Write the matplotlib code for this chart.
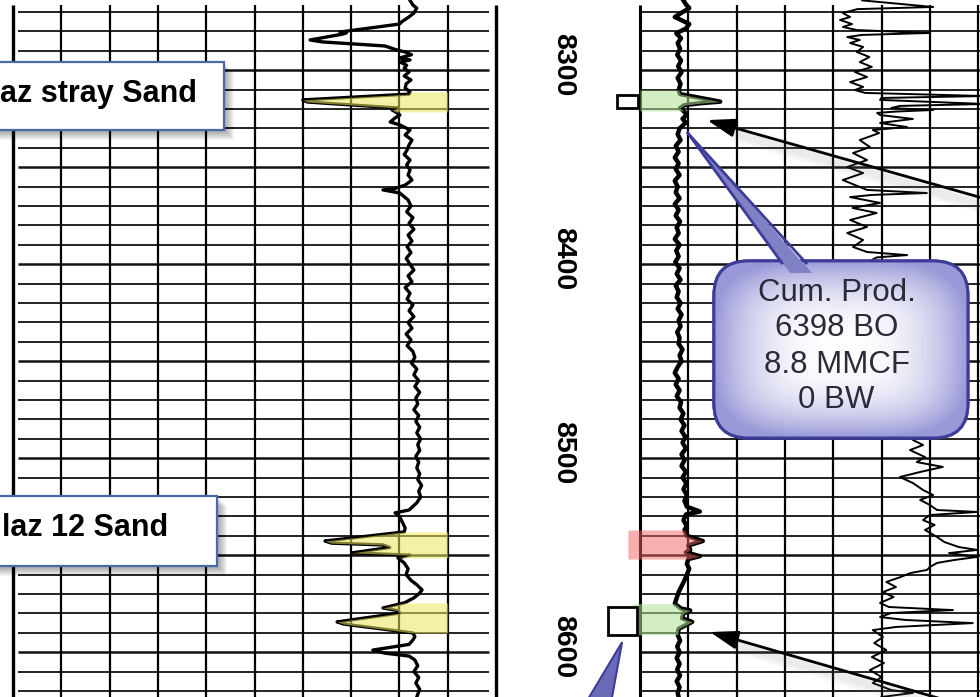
import numpy as np
import matplotlib.pyplot as plt
from matplotlib.patches import FancyBboxPatch, Rectangle, Polygon
from matplotlib.transforms import offset_copy

plt.rcParams['font.family'] = ['Liberation Sans', 'DejaVu Sans']

# depth window of the log section (ft) and depth scale
top_depth = 8263.8
base_depth = 8623.1
grid_depths = np.arange(8270, 8621, 10)
depth_labels = [8300, 8400, 8500, 8600]

# left track curve: (depth, chart divisions from left edge of track)
sp_log = np.array([
    (8264.0, 8.22), (8266.4, 8.28), (8268.0, 8.36), (8270.5, 8.30), (8272.5, 8.20),
    (8275.0, 8.05), (8276.2, 8.00), (8280.3, 6.77), (8280.8, 6.90), (8281.5, 6.80),
    (8284.4, 6.15), (8285.4, 6.40), (8287.5, 7.70), (8289.6, 7.95), (8290.6, 8.12),
    (8292.0, 8.25), (8293.7, 8.00), (8294.7, 8.22), (8295.8, 8.02), (8297.5, 8.15),
    (8298.9, 8.10), (8300.9, 8.20), (8303.0, 8.10), (8305.0, 8.24), (8307.0, 8.14),
    (8309.2, 8.12), (8311.2, 8.22), (8312.3, 8.20), (8315.3, 6.00), (8316.4, 6.10),
    (8319.5, 7.97), (8320.5, 7.85), (8321.5, 7.92), (8323.1, 8.01), (8324.6, 7.91),
    (8326.7, 7.81), (8328.2, 8.01), (8330.8, 8.22), (8333.4, 8.12), (8336.0, 8.26),
    (8338.5, 8.20), (8341.1, 8.16), (8343.5, 8.10), (8346.3, 8.22), (8348.8, 8.15),
    (8351.4, 8.22), (8354.0, 8.18), (8356.6, 8.26), (8359.2, 8.12), (8361.0, 7.90),
    (8361.7, 7.66), (8363.3, 8.01), (8366.9, 8.18), (8370.0, 8.24), (8373.0, 8.15),
    (8376.0, 8.28), (8379.0, 8.20), (8382.0, 8.30), (8385.0, 8.18), (8388.0, 8.26),
    (8391.0, 8.16), (8394.0, 8.24), (8397.0, 8.14), (8400.0, 8.22), (8403.0, 8.30),
    (8406.0, 8.18), (8409.0, 8.26), (8412.0, 8.12), (8415.0, 8.22), (8418.0, 8.16),
    (8421.0, 8.28), (8424.0, 8.20), (8427.0, 8.30), (8430.0, 8.18), (8433.0, 8.26),
    (8436.0, 8.14), (8439.0, 8.24), (8442.0, 8.16), (8445.0, 8.28), (8448.0, 8.32),
    (8451.0, 8.25), (8454.0, 8.36), (8457.0, 8.30), (8460.0, 8.40), (8463.0, 8.32),
    (8466.0, 8.42), (8469.0, 8.34), (8472.0, 8.38), (8475.0, 8.30), (8478.0, 8.40),
    (8481.0, 8.34), (8484.0, 8.42), (8487.0, 8.36), (8490.0, 8.44), (8493.0, 8.38),
    (8496.0, 8.42), (8499.0, 8.34), (8502.0, 8.40), (8505.0, 8.36), (8508.0, 8.42),
    (8511.0, 8.38), (8514.0, 8.46), (8517.0, 8.40), (8520.0, 8.44), (8523.0, 8.36),
    (8526.7, 8.20), (8528.2, 7.91), (8530.0, 8.00), (8533.4, 8.07), (8536.0, 8.12),
    (8538.0, 8.10), (8542.7, 6.46), (8543.8, 6.60), (8544.7, 7.66), (8546.0, 7.80),
    (8548.8, 7.02), (8550.0, 8.22), (8551.4, 7.97), (8554.0, 8.10), (8557.0, 8.18),
    (8560.0, 8.14), (8563.0, 8.24), (8565.0, 8.35), (8567.9, 8.47), (8570.0, 8.40),
    (8572.0, 8.30), (8574.6, 8.10), (8577.2, 7.66), (8578.5, 7.95), (8579.8, 8.01),
    (8584.4, 6.71), (8585.5, 6.85), (8590.1, 8.28), (8592.0, 8.32), (8593.7, 8.28),
    (8596.0, 8.20), (8598.9, 7.45), (8600.5, 7.70), (8602.0, 8.20), (8604.0, 8.32),
    (8607.0, 8.38), (8610.0, 8.30), (8613.0, 8.40), (8616.0, 8.34), (8619.0, 8.42),
    (8623.1, 8.36),
])

# right track, heavy curve: (depth, divisions from left edge of track)
res_shallow = np.array([
    (8264.0, 0.90), (8266.0, 0.95), (8268.0, 1.02), (8270.5, 0.85), (8272.6, 0.72),
    (8274.1, 0.85), (8276.2, 1.02), (8278.5, 0.95), (8281.0, 0.75), (8283.5, 0.85),
    (8286.0, 0.78), (8289.0, 0.83), (8292.0, 0.77), (8295.0, 0.85), (8298.0, 0.79),
    (8301.0, 0.86), (8304.0, 0.78), (8307.0, 0.84), (8310.2, 0.80), (8312.3, 0.83),
    (8316.2, 1.66), (8317.0, 1.25), (8318.0, 0.92), (8319.5, 0.83), (8321.0, 0.90),
    (8323.0, 0.97), (8325.0, 0.88), (8327.0, 0.95), (8330.0, 0.82), (8333.0, 0.78),
    (8336.0, 0.84), (8339.0, 0.74), (8342.0, 0.80), (8345.0, 0.72), (8348.0, 0.80),
    (8351.0, 0.74), (8354.0, 0.82), (8357.0, 0.72), (8360.0, 0.78), (8363.0, 0.74),
    (8366.0, 0.82), (8369.0, 0.72), (8372.0, 0.80), (8375.0, 0.74), (8378.0, 0.83),
    (8381.0, 0.76), (8384.0, 0.80), (8387.0, 0.72), (8390.0, 0.82), (8393.0, 0.75),
    (8396.0, 0.80), (8399.0, 0.73), (8402.0, 0.82), (8405.0, 0.76), (8408.0, 0.84),
    (8411.0, 0.74), (8414.0, 0.80), (8417.0, 0.76), (8420.0, 0.84), (8423.0, 0.78),
    (8426.0, 0.86), (8429.0, 0.80), (8432.0, 0.84), (8435.0, 0.77), (8438.0, 0.82),
    (8441.0, 0.80), (8444.0, 0.88), (8447.0, 0.82), (8450.0, 0.86), (8453.0, 0.78),
    (8456.0, 0.72), (8459.0, 0.80), (8462.0, 0.74), (8465.0, 0.82), (8468.0, 0.76),
    (8471.0, 0.85), (8474.0, 0.82), (8477.0, 0.90), (8480.0, 0.84), (8483.0, 0.92),
    (8486.0, 0.86), (8489.0, 0.94), (8492.0, 0.88), (8495.0, 0.95), (8498.0, 0.86),
    (8501.0, 0.92), (8504.0, 0.86), (8507.0, 0.95), (8510.0, 0.88), (8513.0, 0.96),
    (8516.0, 0.90), (8519.0, 0.97), (8522.0, 0.92), (8525.0, 0.97), (8527.5, 1.24),
    (8529.0, 0.95), (8532.0, 0.90), (8535.0, 0.97), (8537.0, 0.92), (8540.0, 0.97),
    (8542.7, 1.30), (8545.0, 1.00), (8547.3, 1.04), (8548.5, 0.95), (8550.5, 1.24),
    (8552.0, 1.00), (8554.5, 0.97), (8557.0, 1.02), (8560.0, 0.97), (8563.0, 0.92),
    (8566.0, 0.86), (8569.0, 0.80), (8572.0, 0.76), (8575.0, 0.72), (8577.5, 0.85),
    (8578.5, 1.04), (8580.0, 0.90), (8582.5, 0.87), (8584.4, 1.08), (8586.0, 0.95),
    (8588.0, 0.80), (8591.0, 0.78), (8594.0, 0.83), (8597.0, 0.77), (8600.0, 0.82),
    (8603.0, 0.76), (8606.0, 0.82), (8609.0, 0.77), (8612.0, 0.83), (8615.0, 0.76),
    (8618.0, 0.82), (8621.0, 0.78), (8623.1, 0.80),
])

# right track, light curve (hidden behind the callout between 8398 and 8490)
res_deep = np.array([
    (8264.0, 4.60), (8267.4, 6.07), (8268.5, 4.50), (8270.5, 4.20), (8272.6, 4.35),
    (8274.1, 4.14), (8276.2, 4.39), (8277.7, 4.20), (8279.3, 4.49), (8280.8, 6.00),
    (8281.8, 4.60), (8282.9, 4.29), (8284.4, 4.55), (8286.0, 4.35), (8288.0, 4.62),
    (8290.6, 4.49), (8293.2, 4.75), (8295.8, 4.55), (8298.3, 4.80), (8300.9, 4.45),
    (8303.5, 4.70), (8306.1, 4.35), (8308.6, 4.62), (8310.2, 4.45), (8311.7, 4.66),
    (8313.3, 7.14), (8314.3, 5.00), (8315.3, 4.97), (8317.4, 7.14), (8318.4, 5.38),
    (8319.5, 5.20), (8320.5, 6.07), (8321.3, 5.30), (8322.0, 4.91), (8323.1, 4.97),
    (8325.1, 5.65), (8327.2, 4.97), (8329.3, 5.53), (8330.8, 4.82), (8332.4, 4.95),
    (8336.0, 4.55), (8339.6, 4.76), (8342.7, 4.41), (8346.3, 4.70), (8349.9, 4.29),
    (8353.0, 4.62), (8356.6, 4.20), (8360.2, 4.55), (8361.7, 4.70), (8363.3, 5.94),
    (8364.3, 4.80), (8365.4, 4.35), (8368.4, 4.97), (8371.0, 4.40), (8373.6, 4.90),
    (8377.2, 4.35), (8380.8, 4.70), (8383.9, 4.29), (8387.5, 4.62), (8391.1, 4.41),
    (8393.7, 4.70), (8395.3, 5.53), (8396.5, 4.90), (8397.8, 4.80), (8490.6, 5.65),
    (8493.2, 5.86), (8495.8, 5.59), (8499.4, 5.90), (8502.0, 5.73), (8504.5, 6.27),
    (8507.1, 5.80), (8509.7, 5.38), (8512.8, 5.65), (8516.4, 5.86), (8519.0, 6.07),
    (8521.5, 5.80), (8524.1, 6.00), (8526.7, 6.15), (8527.7, 6.98), (8529.3, 6.00),
    (8531.9, 5.86), (8534.4, 6.10), (8537.0, 5.90), (8540.6, 6.15), (8543.2, 6.30),
    (8545.8, 6.60), (8547.3, 6.98), (8548.9, 6.40), (8550.9, 6.98), (8552.5, 6.50),
    (8554.0, 6.15), (8556.1, 6.00), (8557.6, 5.94), (8559.2, 5.60), (8561.2, 5.40),
    (8563.8, 5.10), (8566.4, 5.30), (8569.0, 5.03), (8571.6, 5.25), (8574.6, 4.97),
    (8576.7, 5.15), (8578.3, 6.48), (8579.8, 5.20), (8581.9, 4.97), (8583.4, 5.50),
    (8585.0, 6.89), (8587.0, 5.30), (8588.6, 4.82), (8592.2, 5.03), (8595.3, 4.85),
    (8598.9, 5.10), (8602.5, 4.80), (8605.6, 5.05), (8609.2, 4.76), (8612.8, 5.00),
    (8615.9, 4.82), (8619.5, 5.20), (8621.0, 5.65), (8623.1, 5.00),
])

# highlighted intervals (top, base) in ft
yellow_zones = [(8311.2, 8321.5), (8538.0, 8551.4), (8574.6, 8590.1)]
green_zones = [(8310.2, 8321.0), (8575.0, 8591.0)]
red_zones = [(8537.0, 8552.0)]
perf_marks = [(8312.8, 8319.5), (8576.7, 8591.2)]

sand_labels = ['az stray Sand', 'laz 12 Sand']
sand_depths = [8312.3, 8536.2]
cum_prod = ['Cum. Prod.', '6398 BO', '8.8 MMCF', '0 BW']
cum_depths = [8414.8, 8433.1, 8451.8, 8469.8]

# scale: pixels per chart division / per foot
px_div = 48.3
px_ft = 1.94
W = 980

fig = plt.figure(figsize=(9.8, 6.97), dpi=100)
ax_l = fig.add_axes([0, 0, 496 / W, 1])
ax_d = fig.add_axes([496 / W, 0, 144 / W, 1])
ax_r = fig.add_axes([640 / W, 0, 340 / W, 1])

# --- grid -------------------------------------------------------------
heavy = (grid_depths % 50 == 0)
ax_l.hlines(grid_depths[~heavy], 0.1, 9.85, color='#111111', lw=1.3, zorder=1)
ax_l.hlines(grid_depths[heavy], 0.1, 9.85, color='#111111', lw=1.8, zorder=1)
ax_l.vlines(np.arange(1, 10), base_depth, top_depth + 2.5, color='black', lw=1.6, zorder=1)
ax_l.vlines([0, 10], base_depth, top_depth + 2.5, color='black', lw=2.4, zorder=1, clip_on=False)

ax_r.hlines(grid_depths[~heavy], 0, 7.1, color='#111111', lw=1.3, zorder=1)
ax_r.hlines(grid_depths[heavy], 0, 7.1, color='#111111', lw=1.8, zorder=1)
ax_r.vlines(np.arange(1, 8), base_depth, top_depth + 2.5, color='black', lw=1.6, zorder=1)
ax_r.vlines([0], base_depth, top_depth + 2.5, color='black', lw=2.2, zorder=1, clip_on=False)

# --- curves -----------------------------------------------------------
ax_l.plot(sp_log[:, 1], sp_log[:, 0], color='black', lw=2.4, zorder=2)
ax_r.plot(res_shallow[:, 1], res_shallow[:, 0], color='black', lw=3.2, zorder=2)
ax_r.plot(res_deep[:, 1], res_deep[:, 0], color='black', lw=1.4, zorder=2)


def zone_fill(ax, log, top, base, edge, color, alpha):
    d, v = log[:, 0], log[:, 1]
    m = (d >= top) & (d <= base)
    ax.fill_betweenx(d[m], v[m], edge, color=color, alpha=alpha, lw=0,
                     zorder=3, clip_on=False)


for top, base in yellow_zones:
    zone_fill(ax_l, sp_log, top, base, 9.0, '#ece65a', 0.55)
for (top, base), edge in zip(green_zones, [0.0, -0.15]):
    zone_fill(ax_r, res_shallow, top, base, edge, '#afe191', 0.55)
for top, base in red_zones:
    zone_fill(ax_r, res_shallow, top, base, -0.25, '#f06060', 0.5)

# perforation squares
for (top, base), (x0, x1) in zip(perf_marks, [(-0.48, -0.04), (-0.66, -0.06)]):
    ax_r.add_patch(Rectangle((x0, top), x1 - x0, base - top, fc='white', ec='black',
                             lw=2.0, zorder=4, clip_on=False))

# depth numbers
for d in depth_labels:
    ax_d.annotate(str(d), (0.465, d), xytext=(0, 6), textcoords='offset pixels',
                  rotation=-90, ha='center', va='center', fontsize=20.5,
                  fontweight='bold', color='black')

# --- sand name boxes ----------------------------------------------------
for text, d, (x1, top, base, tx) in zip(sand_labels, sand_depths,
                                         [(4.37, 8295.8, 8330.8, 3.81),
                                          (4.22, 8519.3, 8555.6, 3.21)]):
    x0 = -0.6
    for k in range(1, 11):
        tr = offset_copy(ax_l.transData, fig=fig, x=k, y=-k, units='dots')
        ax_l.add_patch(Rectangle((x0, top), x1 - x0, base - top, transform=tr,
                                 fc='black', ec='none', alpha=0.04, zorder=6,
                                 clip_on=False))
    ax_l.add_patch(Rectangle((x0, top), x1 - x0, base - top, fc='white',
                             ec='#4a6aa5', lw=1.6, zorder=7, clip_on=False))
    ax_l.text(tx, d, text, ha='right', va='center', fontsize=22,
              fontweight='bold', color='black', zorder=8, clip_on=False)

# --- arrows with soft shadows --------------------------------------------
arrow_tips = [(1.39, 8325.7), (1.45, 8589.6)]
arrow_tails = [(7.45, 8368.4), (7.25, 8631.4)]
for tip, tail in zip(arrow_tips, arrow_tails):
    for k in range(1, 6):
        tr = offset_copy(ax_r.transData, fig=fig, x=0, y=-2.5 * k, units='dots')
        ax_r.plot([tip[0] + 0.5, tail[0]], [tip[1] + 2.5, tail[1]], color='gray',
                  lw=5, alpha=0.055, transform=tr, zorder=5, clip_on=False,
                  solid_capstyle='butt')
    ax_r.annotate('', xy=tip, xytext=tail, annotation_clip=False, zorder=6,
                  arrowprops=dict(arrowstyle='-|>,head_length=0.85,head_width=0.28',
                                  color='black', lw=2, mutation_scale=20,
                                  shrinkA=0, shrinkB=0))

# --- production callout ---------------------------------------------------
bx0, bx1, bd0, bd1 = 1.53, 6.79, 8398.3, 8489.6
aspect = px_div / px_ft
edge_col = '#3d3d99'
box = FancyBboxPatch((bx0, bd0), bx1 - bx0, bd1 - bd0,
                     boxstyle='round,pad=0,rounding_size=0.72',
                     mutation_aspect=aspect, fc='#a8a8dc', ec=edge_col, lw=2.2,
                     zorder=7)
ax_r.add_patch(box)
u = np.linspace(-1, 1, 260)
v = np.linspace(-1, 1, 180)
U, V = np.meshgrid(u, v)
t = np.clip((np.abs(U) ** 3.5 + np.abs(V) ** 3.5) ** (1 / 3.5), 0, 1) ** 2.4
edge_rgb = np.array([0.60, 0.60, 0.85])
img = (1 - t[..., None]) * np.ones(3) + t[..., None] * edge_rgb
im = ax_r.imshow(img, extent=(bx0, bx1, bd1, bd0), aspect='auto', zorder=7.5,
                 interpolation='bilinear')
im.set_clip_path(box)
ax_r.add_patch(FancyBboxPatch((bx0, bd0), bx1 - bx0, bd1 - bd0,
                              boxstyle='round,pad=0,rounding_size=0.72',
                              mutation_aspect=aspect, fc='none', ec=edge_col,
                              lw=2.2, zorder=8))

# pointer from the callout to the upper perforation
tip = (0.99, 8332.4)
p_left, p_right = (2.94, 8399.4), (3.44, 8399.4)
ax_r.add_patch(Polygon([tip, (3.11, 8404.5), (3.56, 8404.5)], closed=True,
                       fc='#8080c4', ec='none', zorder=8.5))
ax_r.plot([tip[0], p_left[0]], [tip[1], p_left[1]], color=edge_col, lw=2, zorder=8.6)
ax_r.plot([tip[0], p_right[0]], [tip[1], p_right[1]], color=edge_col, lw=2, zorder=8.6)

for line, d in zip(cum_prod, cum_depths):
    ax_r.text(4.07, d, line, ha='center', va='center', fontsize=22.5,
              color='#2a2a38', zorder=9)

# pointer of a second callout leaving the bottom of the frame
ax_r.add_patch(Polygon([(-0.37, 8594.8), (-1.12, 8626.0), (-0.60, 8626.0)],
                       closed=True, fc='#6a6ab8', ec=edge_col, lw=1.5,
                       zorder=8, clip_on=False))

for ax in (ax_l, ax_d, ax_r):
    ax.set_ylim(base_depth, top_depth)
    ax.axis('off')
ax_l.set_xlim(-13 / px_div, 483 / px_div)
ax_d.set_xlim(0, 1)
ax_r.set_xlim(0, 340 / px_div)

fig.savefig('out.png', dpi=100, facecolor='white')
